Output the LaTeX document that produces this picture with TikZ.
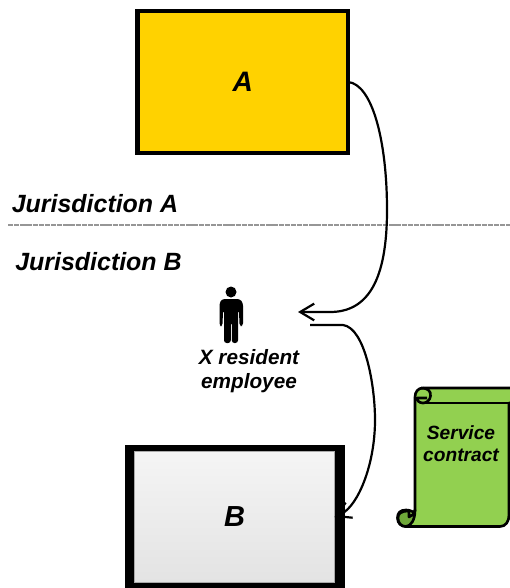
\documentclass[tikz,border=0pt]{standalone}
\usepackage{fontspec}
\setmainfont{Liberation Sans}
\usetikzlibrary{arrows.meta}
\definecolor{boxgold}{HTML}{FFD200}
\definecolor{scrollgreen}{HTML}{92D050}
\definecolor{curlgreen}{HTML}{6FA83A}
\definecolor{rimgray}{HTML}{AAAAAA}
\definecolor{sepgray}{HTML}{969696}
\begin{document}
\begin{tikzpicture}[x=0.02cm,y=0.02cm]
    \tikzstyle{every node}+=[inner sep=0pt,outer sep=0pt,font=\bfseries\itshape,align=center]
    \tikzstyle{flow}=[black,line width=1.25pt]
    \tikzstyle{flowtip}=[flow,-{Straight Barb[length=8pt,width=9.5pt,line width=1.25pt]}]
    \tikzstyle{juri}=[font=\bfseries\itshape\fontsize{14.2}{17}\selectfont]
    \tikzstyle{scrollline}=[black,line width=1.5pt,line join=round]
    \useasboundingbox (0,0) rectangle (510,-588);
    % boxes
    \node (A) at (242.75,-82) [draw=black,fill=boxgold,line width=2.4pt,minimum width=4.21cm,minimum height=2.84cm,font=\bfseries\itshape\fontsize{16}{19}\selectfont] {A};
    \node (Bframe) at (235,-520) [fill=black,minimum width=4.4cm,minimum height=3.0cm] {};
    \node (B) at (234.5,-517) [draw=rimgray,line width=1pt,top color=white!96!black,bottom color=white!89!black,minimum width=4.0cm,minimum height=2.62cm,font=\bfseries\itshape\fontsize{16.5}{19}\selectfont] {B};
    % jurisdictions
    \draw [sepgray,line width=1.6pt,dash pattern=on 3pt off 0.5pt] (8,-225) -- (510,-225);
    \node (juriA) at (95,-204) [juri] {Jurisdiction A};
    \node (juriB) at (98.5,-262) [juri] {Jurisdiction B};
    % employee
    \fill [black] (231,-292) circle (5.5);
    \fill [black,rounded corners=1.5] (222,-299) -- (240,-299) -- (243,-303) -- (243,-326) -- (239.5,-326) -- (239,-310) -- (238,-310) -- (238,-343) -- (231.8,-343) -- (231.8,-322) -- (230.8,-322) -- (230.8,-343) -- (224,-343) -- (224,-310) -- (223,-310) -- (222.5,-326) -- (219.5,-326) -- (219.5,-303) -- cycle;
    \node (employee) at (249,-371) [font=\bfseries\itshape\fontsize{11.8}{13.6}\selectfont] {X resident\\employee};
    \coordinate (empin) at (298,-312);
    \coordinate (empout) at (310,-325);
    % scroll
    \draw [scrollline,fill=scrollgreen] (514,-388) -- (423,-388) .. controls (418,-388) and (415,-392) .. (415,-397) -- (415,-510) .. controls (415,-515) and (413,-510) .. (406,-510) .. controls (400,-510) and (397.5,-513) .. (397.5,-518) .. controls (397.5,-523) and (401,-526.5) .. (406,-526.5) -- (500,-526.5) .. controls (506,-526.5) and (509,-521) .. (509,-515) -- (509,-403) -- (514,-403);
    \draw [scrollline,fill=curlgreen] (406,-526.5) .. controls (411,-526) and (415,-520) .. (415,-510) .. controls (414,-514) and (412,-516) .. (409,-517) -- (409,-511) .. controls (400,-511) and (398,-514) .. (398,-518) .. controls (398,-523) and (401,-526.5) .. (406,-526.5) -- cycle;
    \draw [scrollline] (421,-388) .. controls (428,-388) and (431,-391) .. (430.5,-396) .. controls (430,-400) and (427,-403) .. (423,-403) .. controls (419,-403) and (416.5,-400) .. (417,-398) -- (427,-398);
    \draw [scrollline] (420,-403) -- (509,-403);
    \node (contract) at (461,-444) [font=\bfseries\itshape\fontsize{10.9}{12.6}\selectfont] {Service\\contract};
    % connectors
    \draw [flowtip] (A.east) .. controls (372,-84) and (387,-140) .. (387,-210) .. controls (387,-280) and (368,-312) .. (330,-312) -- (empin);
    \draw [flowtip] (empout) -- (343,-325) .. controls (365,-328) and (375,-385) .. (375,-420) .. controls (375,-465) and (358,-505) .. (342,-513.5) -- (B.east);
\end{tikzpicture}
\end{document}
